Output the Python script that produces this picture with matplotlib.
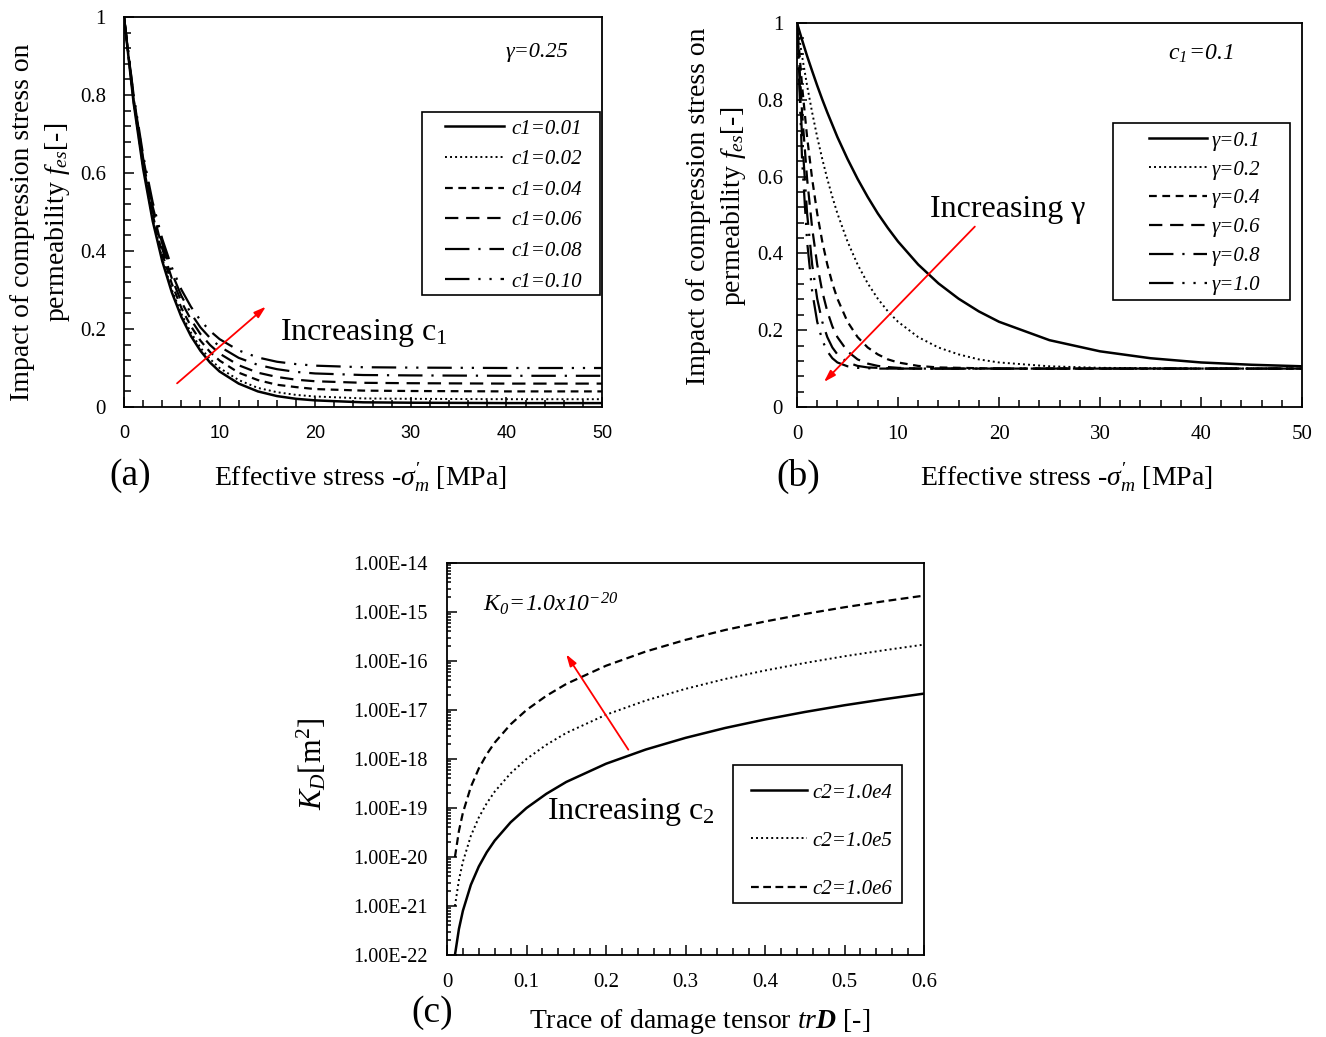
import math
import matplotlib
matplotlib.use('Agg')
import matplotlib.pyplot as plt
from matplotlib.patches import Rectangle
from matplotlib.ticker import MultipleLocator, FuncFormatter, LogLocator, FixedLocator, NullFormatter

plt.rcParams['font.family'] = ['Liberation Serif', 'DejaVu Serif']
plt.rcParams['mathtext.fontset'] = 'custom'
plt.rcParams['mathtext.rm'] = 'Liberation Serif'
plt.rcParams['mathtext.it'] = 'Liberation Serif:italic'
plt.rcParams['mathtext.bf'] = 'Liberation Serif:italic:bold'
plt.rcParams['mathtext.sf'] = 'Liberation Serif:italic'

# ---------------- data ----------------
# Panel (a): gamma = 0.25, varying c1
stress_a = [0, 1, 2, 3, 4, 5, 6, 7, 8, 9, 10, 12, 14, 16, 18, 20, 25, 30, 40, 50]
c1_labels = ['c1=0.01', 'c1=0.02', 'c1=0.04', 'c1=0.06', 'c1=0.08', 'c1=0.10']
fes_c1_001 = [1, 0.781, 0.611, 0.477, 0.374, 0.294, 0.231, 0.182, 0.144, 0.114, 0.091, 0.060, 0.040, 0.028, 0.021, 0.017, 0.012, 0.011, 0.010, 0.010]
fes_c1_002 = [1, 0.783, 0.615, 0.483, 0.381, 0.301, 0.239, 0.191, 0.152, 0.123, 0.100, 0.069, 0.049, 0.038, 0.031, 0.027, 0.022, 0.021, 0.020, 0.020]
fes_c1_004 = [1, 0.788, 0.623, 0.493, 0.393, 0.316, 0.254, 0.207, 0.170, 0.141, 0.119, 0.088, 0.069, 0.057, 0.051, 0.046, 0.042, 0.041, 0.040, 0.040]
fes_c1_006 = [1, 0.792, 0.631, 0.504, 0.406, 0.330, 0.270, 0.224, 0.187, 0.159, 0.137, 0.107, 0.088, 0.077, 0.070, 0.066, 0.062, 0.061, 0.060, 0.060]
fes_c1_008 = [1, 0.797, 0.638, 0.514, 0.419, 0.344, 0.285, 0.240, 0.204, 0.177, 0.155, 0.126, 0.108, 0.097, 0.090, 0.086, 0.082, 0.081, 0.080, 0.080]
fes_c1_010 = [1, 0.801, 0.646, 0.525, 0.431, 0.358, 0.301, 0.257, 0.222, 0.195, 0.174, 0.145, 0.127, 0.116, 0.110, 0.106, 0.102, 0.101, 0.100, 0.100]

# Panel (b): c1 = 0.1, varying gamma
stress_b = [0, 0.5, 1, 1.5, 2, 2.5, 3, 3.5, 4, 5, 6, 7, 8, 9, 10, 12, 14, 16, 18, 20, 25, 30, 35, 40, 45, 50]
gamma_labels = ['γ=0.1', 'γ=0.2', 'γ=0.4', 'γ=0.6', 'γ=0.8', 'γ=1.0']
fes_g01 = [1, 0.956, 0.914, 0.875, 0.837, 0.801, 0.767, 0.735, 0.703, 0.646, 0.594, 0.547, 0.504, 0.466, 0.431, 0.371, 0.322, 0.282, 0.249, 0.222, 0.174, 0.145, 0.127, 0.116, 0.110, 0.106]
fes_g02 = [1, 0.914, 0.837, 0.767, 0.703, 0.646, 0.594, 0.547, 0.504, 0.431, 0.371, 0.322, 0.282, 0.249, 0.222, 0.182, 0.155, 0.137, 0.124, 0.116, 0.106, 0.102, 0.101, 0.100, 0.100, 0.100]
fes_g04 = [1, 0.837, 0.703, 0.594, 0.504, 0.431, 0.371, 0.322, 0.282, 0.222, 0.182, 0.155, 0.137, 0.124, 0.116, 0.107, 0.103, 0.102, 0.101, 0.100, 0.100, 0.100, 0.100, 0.100, 0.100, 0.100]
fes_g06 = [1, 0.767, 0.594, 0.466, 0.371, 0.301, 0.249, 0.210, 0.182, 0.145, 0.124, 0.113, 0.107, 0.104, 0.102, 0.100, 0.100, 0.100, 0.100, 0.100, 0.100, 0.100, 0.100, 0.100, 0.100, 0.100]
fes_g08 = [1, 0.703, 0.504, 0.371, 0.282, 0.222, 0.182, 0.155, 0.137, 0.116, 0.107, 0.103, 0.102, 0.101, 0.100, 0.100, 0.100, 0.100, 0.100, 0.100, 0.100, 0.100, 0.100, 0.100, 0.100, 0.100]
fes_g10 = [1, 0.646, 0.431, 0.301, 0.222, 0.174, 0.145, 0.127, 0.116, 0.106, 0.102, 0.101, 0.100, 0.100, 0.100, 0.100, 0.100, 0.100, 0.100, 0.100, 0.100, 0.100, 0.100, 0.100, 0.100, 0.100]

# Panel (c): K0 = 1e-20, varying c2
trD = [0.01, 0.015, 0.02, 0.03, 0.04, 0.05, 0.06, 0.08, 0.1, 0.125, 0.15, 0.2, 0.25, 0.3, 0.35, 0.4, 0.45, 0.5, 0.55, 0.6]
c2_labels = ['c2=1.0e4', 'c2=1.0e5', 'c2=1.0e6']
KD_c2_1e4 = [1.0e-22, 3.4e-22, 8.0e-22, 2.7e-21, 6.4e-21, 1.25e-20, 2.16e-20, 5.1e-20, 1.0e-19, 1.95e-19, 3.4e-19, 8.0e-19, 1.56e-18, 2.7e-18, 4.3e-18, 6.4e-18, 9.1e-18, 1.25e-17, 1.66e-17, 2.16e-17]
KD_c2_1e5 = [1.0e-21, 3.4e-21, 8.0e-21, 2.7e-20, 6.4e-20, 1.25e-19, 2.16e-19, 5.1e-19, 1.0e-18, 1.95e-18, 3.4e-18, 8.0e-18, 1.56e-17, 2.7e-17, 4.3e-17, 6.4e-17, 9.1e-17, 1.25e-16, 1.66e-16, 2.16e-16]
KD_c2_1e6 = [1.0e-20, 3.4e-20, 8.0e-20, 2.7e-19, 6.4e-19, 1.25e-18, 2.16e-18, 5.1e-18, 1.0e-17, 1.95e-17, 3.4e-17, 8.0e-17, 1.56e-16, 2.7e-16, 4.3e-16, 6.4e-16, 9.1e-16, 1.25e-15, 1.66e-15, 2.16e-15]
c_ytick_labels = ['1.00E-22', '1.00E-21', '1.00E-20', '1.00E-19', '1.00E-18', '1.00E-17', '1.00E-16', '1.00E-15', '1.00E-14']

# ---------------- figure ----------------
W, H = 1326, 1037
fig = plt.figure(figsize=(W / 100, H / 100), dpi=100)

def ax_px(l, t, r, b):
    return fig.add_axes([l / W, 1 - b / H, (r - l) / W, (b - t) / H])

def fpt(x, y):
    return (x / W, 1 - y / H)

axa = ax_px(124, 17, 602, 407)
axb = ax_px(797, 23, 1302, 407)
axc = ax_px(447, 563, 924, 955)

styles6 = ['-', (0, (1, 1.6)), (0, (3.5, 2.5)), (0, (6, 3.5)), (0, (11, 4, 1, 4)), (0, (11, 4, 1, 4, 1, 4))]
lws6 = [1.8, 1.4, 1.6, 1.6, 1.6, 1.6]
TICK = 15
leg_prop = {'family': 'Liberation Serif', 'style': 'italic', 'size': 15}

def style_axis(ax):
    for s in ax.spines.values():
        s.set_linewidth(1.3)
    ax.tick_params(which='both', direction='in', top=False, right=False, width=1.1)
    ax.tick_params(which='major', length=7)
    ax.tick_params(which='minor', length=5)

def legend_px(ax, left, rowtop, hl, htp, ls, frame):
    leg = ax.legend(loc='upper left', bbox_to_anchor=fpt(left, rowtop), bbox_transform=fig.transFigure,
                    prop=leg_prop, handlelength=hl, handletextpad=htp, labelspacing=ls, borderpad=0,
                    borderaxespad=0, frameon=False)
    leg.set_zorder(6)
    l, t, r, b = frame
    ax.add_patch(Rectangle(fpt(l, b), (r - l) / W, (b - t) / H, transform=fig.transFigure,
                           facecolor='white', edgecolor='black', lw=1.2, zorder=5, clip_on=False))
    return leg

g = lambda v, p: '%g' % v
arrow_kw = dict(arrowstyle='-|>,head_length=0.7,head_width=0.22', color='red', lw=1.3)

# Panel (a)
series_a = [fes_c1_001, fes_c1_002, fes_c1_004, fes_c1_006, fes_c1_008, fes_c1_010]
for ys, lab, ls, lw in zip(series_a, c1_labels, styles6, lws6):
    axa.plot(stress_a, ys, color='black', linestyle=ls, linewidth=lw, label=lab)
axa.set_xlim(0, 50)
axa.set_ylim(0, 1)
axa.xaxis.set_major_locator(MultipleLocator(10))
axa.xaxis.set_minor_locator(MultipleLocator(2))
axa.yaxis.set_major_locator(MultipleLocator(0.2))
axa.yaxis.set_minor_locator(MultipleLocator(0.04))
axa.yaxis.set_major_formatter(FuncFormatter(g))
style_axis(axa)
axa.tick_params(axis='x', pad=13, labelsize=13, labelfontfamily='Liberation Sans')
axa.tick_params(axis='y', pad=13, labelsize=TICK)
legend_px(axa, 445, 119, 2.84, 0.34, 0.53, (422, 112, 600, 295))
axa.text(43.2, 0.91, 'γ=0.25', fontsize=16, style='italic', ha='center', va='center')
axa.annotate('', xy=(15.06, 0.262), xytext=(5.33, 0.056), arrowprops=arrow_kw)
axa.text(16.3, 0.19, 'Increasing c$_1$', fontsize=23, ha='left', va='center')

# Panel (b)
series_b = [fes_g01, fes_g02, fes_g04, fes_g06, fes_g08, fes_g10]
for ys, lab, ls, lw in zip(series_b, gamma_labels, styles6, lws6):
    axb.plot(stress_b, ys, color='black', linestyle=ls, linewidth=lw, label=lab)
axb.set_xlim(0, 50)
axb.set_ylim(0, 1)
axb.xaxis.set_major_locator(MultipleLocator(10))
axb.xaxis.set_minor_locator(MultipleLocator(2))
axb.yaxis.set_major_locator(MultipleLocator(0.2))
axb.yaxis.set_minor_locator(MultipleLocator(0.04))
axb.yaxis.set_major_formatter(FuncFormatter(g))
style_axis(axb)
axb.tick_params(axis='x', pad=13, labelsize=TICK)
axb.tick_params(axis='y', pad=10, labelsize=TICK)
legend_px(axb, 1149, 131, 2.79, 0.2, 0.45, (1113, 123, 1290, 300))
axb.text(40.0, 0.92, r'$\mathsf{c_1\!=\!0.1}$', fontsize=17, ha='center', va='center')
axb.annotate('', xy=(2.48, 0.06), xytext=(17.8, 0.475), arrowprops=arrow_kw)
axb.text(13.2, 0.514, 'Increasing γ', fontsize=23, ha='left', va='center')

# Panel (c)
series_c = [KD_c2_1e4, KD_c2_1e5, KD_c2_1e6]
styles3 = ['-', (0, (1, 1.6)), (0, (3.5, 2.0))]
lws3 = [1.8, 1.4, 1.6]
for ys, lab, ls, lw in zip(series_c, c2_labels, styles3, lws3):
    axc.plot(trD, ys, color='black', linestyle=ls, linewidth=lw, label=lab)
axc.set_yscale('log')
axc.set_xlim(0, 0.6)
axc.set_ylim(1e-22, 1e-14)
axc.xaxis.set_major_locator(MultipleLocator(0.1))
axc.xaxis.set_minor_locator(MultipleLocator(0.02))
axc.xaxis.set_major_formatter(FuncFormatter(g))
axc.yaxis.set_major_locator(FixedLocator([10.0 ** e for e in range(-22, -13)]))
axc.yaxis.set_major_formatter(FuncFormatter(lambda v, p: c_ytick_labels[int(round(math.log10(v))) + 22]))
axc.yaxis.set_minor_locator(LogLocator(base=10, subs=range(2, 10), numticks=20))
axc.yaxis.set_minor_formatter(NullFormatter())
style_axis(axc)
axc.tick_params(axis='y', which='minor', length=3)
axc.tick_params(axis='x', pad=13, labelsize=TICK)
axc.tick_params(axis='y', pad=14, labelsize=14.5)
legend_px(axc, 751, 783, 2.7, 0.24, 1.37, (733, 765, 902, 903))
axc.text(0.045, 1.5e-15, r'$\mathsf{K_0\!=\!1.0x10^{-20}}$', fontsize=17, ha='left', va='center')
axc.annotate('', xy=(0.148, 1.53e-16), xytext=(0.230, 1.39e-18), arrowprops=arrow_kw)
axc.text(0.126, 8.3e-20, 'Increasing c$_2$', fontsize=23, ha='left', va='center')

# Axis labels and panel tags (figure text)
LAB = 20
def ftext(x, y, s, **kw):
    fig.text(x / W, 1 - y / H, s, **kw)

ylab = 'Impact of compression stress on\npermeability $f_{es}$[-]'
ftext(41, 222, ylab, fontsize=LAB, rotation=90, ha='center', va='center', multialignment='center', linespacing=1.42)
ftext(717, 206, ylab, fontsize=LAB, rotation=90, ha='center', va='center', multialignment='center', linespacing=1.42)
xlab = r"Effective stress -$\sigma_m^{\prime}$ [MPa]"
ftext(360, 478, xlab, fontsize=LAB, ha='center', va='center')
ftext(1066, 478, xlab, fontsize=LAB, ha='center', va='center')
ftext(700, 1021, r'Trace of damage tensor $tr\mathbf{D}$ [-]', fontsize=LAB, ha='center', va='center')
ftext(312, 764, r'$K_D$[m$^2$]', fontsize=22, rotation=90, ha='center', va='center')
ftext(130, 476, '(a)', fontsize=27, ha='center', va='center')
ftext(798, 476, '(b)', fontsize=27, ha='center', va='center')
ftext(432, 1013, '(c)', fontsize=27, ha='center', va='center')

fig.savefig('out.png', dpi=100, facecolor='white')
